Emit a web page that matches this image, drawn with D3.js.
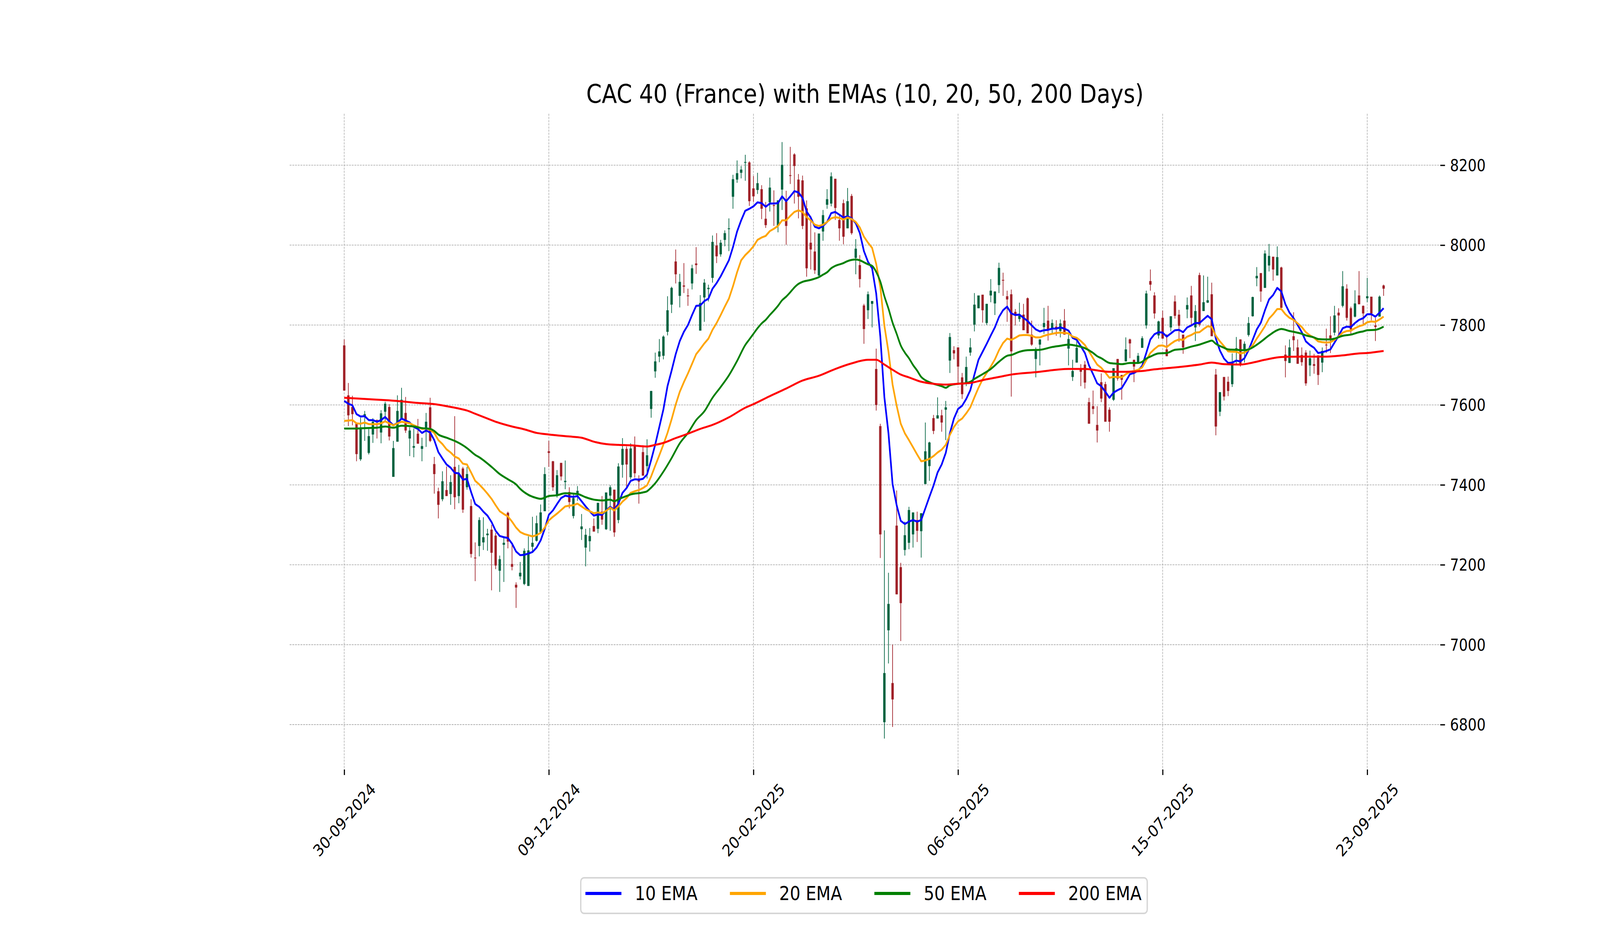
<!DOCTYPE html>
<html>
<head>
<meta charset="utf-8">
<script src="https://cdn.jsdelivr.net/npm/d3@7"></script>
<style>
html, body { margin: 0; padding: 0; width: 100%; height: 100%; overflow: hidden; background: #ffffff; }
#chart { width: 100vw; height: 100vh; }
svg { display: block; font-family: "DejaVu Sans", sans-serif; }
</style>
</head>
<body>
<div id="chart"></div>
<script>
"use strict";
var width = 4800;
var height = 2400;

var title = "CAC 40 (France) with EMAs (10, 20, 50, 200 Days)";

// daily candles, one row per trading day: [open, high, low, close]
var ohlc = [
    [7749,7764,7636,7636], [7624,7655,7547,7574], [7595,7623,7549,7577], [7553,7553,7459,7477], [7464,7568,7460,7541],
    [7571,7585,7510,7577], [7480,7540,7476,7522], [7526,7567,7505,7558], [7562,7564,7516,7558], [7531,7587,7504,7579],
    [7583,7608,7558,7603], [7595,7602,7511,7521], [7420,7510,7420,7492], [7508,7624,7508,7585], [7567,7643,7564,7613],
    [7580,7620,7530,7536], [7516,7544,7472,7536], [7493,7541,7469,7497], [7528,7565,7503,7503], [7490,7518,7459,7497],
    [7541,7580,7495,7558], [7594,7618,7507,7510], [7452,7470,7378,7427], [7384,7393,7316,7350], [7364,7434,7359,7409],
    [7387,7446,7372,7372], [7377,7424,7350,7407], [7445,7572,7339,7369], [7372,7450,7354,7427], [7441,7445,7330,7338],
    [7394,7445,7388,7427], [7347,7364,7218,7227], [7218,7256,7159,7216], [7247,7319,7221,7312], [7256,7319,7237,7269],
    [7274,7290,7235,7278], [7288,7300,7136,7230], [7273,7280,7189,7198], [7185,7223,7132,7214], [7250,7267,7157,7255],
    [7330,7333,7241,7258], [7202,7251,7186,7195], [7150,7156,7092,7143], [7171,7207,7163,7180], [7152,7241,7149,7235],
    [7147,7271,7147,7236], [7245,7320,7230,7255], [7260,7323,7258,7304], [7282,7351,7282,7331], [7334,7444,7334,7427],
    [7484,7510,7445,7480], [7459,7460,7385,7394], [7372,7437,7368,7424], [7455,7455,7411,7421], [7407,7461,7389,7410],
    [7382,7394,7341,7357], [7322,7380,7316,7367], [7378,7397,7360,7385], [7289,7327,7262,7296], [7243,7290,7196,7275],
    [7259,7292,7233,7272], [7297,7316,7283,7283], [7290,7355,7279,7355], [7333,7372,7300,7313], [7289,7381,7287,7381],
    [7373,7399,7285,7394], [7388,7388,7270,7281], [7312,7454,7304,7446], [7450,7517,7418,7490], [7490,7496,7394,7451],
    [7419,7504,7414,7491], [7499,7521,7418,7429], [7411,7424,7353,7408], [7482,7499,7423,7423], [7447,7514,7416,7474],
    [7590,7635,7568,7635], [7684,7731,7668,7709], [7721,7765,7707,7734], [7723,7774,7714,7771], [7783,7872,7774,7837],
    [7851,7896,7830,7893], [7959,7989,7904,7927], [7873,7928,7844,7908], [7899,7955,7880,7896], [7874,7891,7848,7872],
    [7904,7951,7889,7942], [7954,7995,7928,7950], [7786,7875,7786,7855], [7869,7915,7808,7906], [7890,7901,7859,7893],
    [7918,8024,7906,8008], [7999,8030,7955,7972], [7977,8013,7971,8006], [8013,8037,7997,8030], [8040,8067,7985,8042],
    [8121,8176,8091,8165], [8164,8212,8156,8180], [8181,8198,8167,8189], [8206,8226,8161,8208], [8207,8210,8098,8110],
    [8142,8173,8108,8122], [8138,8181,8128,8155], [8140,8150,8065,8091], [8066,8108,8043,8050], [8107,8169,8084,8144],
    [8100,8137,8048,8098], [8048,8112,8032,8112], [8139,8258,8088,8201], [8109,8136,8001,8048], [8175,8246,8153,8174],
    [8227,8230,8104,8198], [8164,8178,8067,8121], [8162,8174,8040,8048], [8092,8112,7921,7942], [8006,8073,7939,7989],
    [7984,8032,7928,7937], [7924,8029,7922,8029], [8034,8088,8011,8075], [8101,8140,8091,8115], [8104,8182,8097,8172],
    [8166,8166,8063,8093], [8063,8073,8011,8042], [8105,8114,8002,8021], [8042,8143,8042,8110], [8123,8128,8026,8030],
    [7968,8015,7927,7991], [7950,7975,7894,7915], [7849,7853,7753,7790], [7837,7884,7815,7877], [7853,7860,7794,7860],
    [7690,7741,7586,7600], [7547,7553,7217,7276], [6806,7286,6765,6929], [7036,7180,6953,7102], [6904,7000,6794,6863],
    [7298,7386,7126,7126], [7194,7205,7009,7104], [7237,7308,7223,7274], [7255,7345,7239,7337], [7276,7331,7243,7331],
    [7312,7333,7257,7285], [7284,7329,7218,7329], [7402,7556,7402,7484], [7447,7508,7410,7506], [7567,7575,7527,7535],
    [7566,7619,7566,7574], [7574,7588,7533,7556], [7588,7610,7512,7594], [7711,7780,7680,7770], [7737,7747,7714,7729],
    [7744,7744,7651,7696], [7669,7680,7615,7627], [7654,7721,7647,7695], [7731,7767,7723,7744], [7801,7880,7784,7851],
    [7842,7874,7842,7874], [7876,7876,7806,7837], [7805,7853,7800,7853], [7874,7915,7857,7886], [7854,7884,7825,7884],
    [7900,7956,7880,7943], [7913,7931,7873,7911], [7872,7886,7808,7864], [7877,7889,7621,7734], [7833,7840,7799,7827],
    [7815,7856,7808,7823], [7826,7853,7787,7787], [7867,7869,7779,7779], [7776,7811,7748,7751], [7715,7744,7669,7737],
    [7751,7764,7699,7764], [7795,7843,7778,7805], [7811,7848,7761,7789], [7789,7814,7779,7805], [7796,7812,7773,7791],
    [7785,7814,7769,7804], [7811,7840,7776,7776], [7741,7776,7699,7765], [7670,7713,7660,7685], [7706,7760,7706,7743],
    [7690,7702,7647,7683], [7701,7710,7641,7656], [7607,7618,7553,7553], [7597,7636,7577,7590], [7550,7597,7506,7536],
    [7657,7679,7607,7616], [7652,7658,7558,7558], [7588,7594,7533,7558], [7613,7692,7610,7692], [7715,7715,7661,7666],
    [7675,7675,7613,7663], [7709,7769,7709,7739], [7764,7766,7717,7754], [7713,7713,7657,7696], [7703,7730,7703,7723],
    [7743,7772,7743,7767], [7799,7886,7791,7879], [7910,7939,7886,7901], [7874,7882,7816,7829], [7774,7811,7766,7809],
    [7818,7836,7766,7766], [7739,7777,7722,7722], [7794,7822,7784,7822], [7859,7874,7816,7823], [7826,7838,7758,7798],
    [7776,7776,7728,7744], [7839,7869,7817,7850], [7874,7898,7801,7818], [7794,7850,7760,7835], [7925,7931,7796,7801],
    [7835,7924,7835,7857], [7856,7921,7855,7862], [7877,7906,7772,7772], [7676,7690,7524,7546], [7583,7632,7572,7632],
    [7670,7670,7611,7621], [7658,7671,7622,7635], [7652,7729,7645,7708], [7739,7770,7701,7742], [7764,7764,7696,7700],
    [7738,7759,7706,7753], [7775,7820,7771,7805], [7822,7871,7821,7870], [7917,7945,7897,7923], [7930,7930,7858,7884],
    [7893,7987,7893,7979], [7949,8003,7934,7973], [7971,7971,7911,7939], [7924,7997,7924,7970], [7944,7946,7843,7843],
    [7726,7749,7669,7710], [7705,7764,7705,7744], [7772,7832,7735,7762], [7744,7764,7703,7703], [7725,7744,7698,7707],
    [7731,7737,7648,7654], [7699,7736,7672,7717], [7702,7728,7678,7698], [7724,7724,7650,7675], [7706,7744,7682,7735],
    [7751,7791,7730,7749], [7774,7822,7730,7765], [7781,7848,7774,7824], [7831,7842,7769,7824], [7848,7935,7844,7897],
    [7891,7902,7811,7818], [7842,7846,7778,7789], [7821,7887,7819,7854], [7874,7935,7852,7852], [7848,7849,7802,7829],
    [7867,7918,7857,7872], [7871,7871,7812,7829], [7799,7818,7760,7795], [7821,7874,7821,7871], [7899,7901,7873,7891]
];

// 10 and 20 day EMA, one value per trading day
var ema10 = [
    7610,7603,7599,7577,7571,7572,7562,7562,7558,7562, 7570,7559,7549,7555,7566,7561,7556,7545,7540,7530,
    7536,7531,7512,7482,7466,7451,7443,7430,7429,7413, 7415,7382,7352,7345,7333,7323,7307,7285,7272,7269,
    7267,7253,7233,7224,7225,7228,7232,7243,7261,7290, 7325,7336,7352,7367,7373,7371,7370,7372,7359,7346,
    7334,7323,7326,7325,7336,7345,7338,7353,7380,7392, 7410,7414,7413,7415,7426,7462,7501,7545,7589,7647,
    7686,7727,7760,7783,7800,7825,7848,7849,7860,7866, 7891,7905,7922,7942,7962,7995,8034,8062,8086,8091,
    8097,8107,8105,8096,8104,8104,8105,8122,8110,8122, 8135,8132,8118,8084,8069,8046,8042,8048,8058,8080,
    8083,8076,8069,8072,8067,8055,8030,7985,7958,7942, 7879,7772,7619,7529,7402,7349,7310,7302,7308,7312,
    7308,7312,7341,7370,7398,7431,7451,7480,7529,7566, 7590,7598,7615,7637,7676,7713,7733,7753,7774,7794,
    7820,7837,7846,7829,7825,7826,7818,7810,7799,7789, 7784,7787,7788,7791,7791,7794,7791,7786,7768,7763,
    7747,7730,7699,7677,7654,7647,7633,7618,7631,7637, 7642,7659,7677,7680,7686,7698,7730,7764,7777,7782,
    7781,7771,7779,7787,7788,7782,7794,7799,7805,7805, 7814,7823,7814,7766,7736,7716,7705,7706,7711,7709,
    7717,7737,7763,7789,7806,7837,7864,7875,7893,7884, 7852,7831,7817,7800,7782,7759,7750,7743,7730,7732,
    7735,7739,7756,7773,7792,7796,7795,7805,7813,7817, 7827,7827,7821,7831,7842
];
var ema20 = [
    7560,7561,7562,7554,7553,7556,7552,7552,7552,7554, 7559,7554,7549,7554,7558,7556,7554,7549,7545,7540,
    7541,7538,7530,7512,7502,7489,7481,7471,7466,7453, 7451,7431,7410,7401,7390,7378,7365,7349,7334,7327,
    7321,7308,7293,7282,7277,7274,7271,7274,7280,7293, 7311,7320,7328,7337,7346,7348,7349,7353,7346,7339,
    7334,7329,7331,7329,7335,7343,7336,7346,7358,7367, 7380,7384,7387,7392,7399,7421,7448,7474,7501,7530,
    7564,7601,7633,7657,7679,7703,7727,7740,7754,7766, 7788,7805,7825,7846,7866,7897,7932,7962,7975,7985,
    7997,8013,8019,8023,8035,8041,8048,8062,8062,8073, 8083,8087,8083,8070,8062,8051,8048,8051,8058,8067,
    8070,8068,8064,8069,8065,8058,8044,8021,8006,7993, 7953,7896,7798,7733,7651,7598,7553,7529,7512,7494,
    7476,7459,7461,7465,7472,7481,7488,7500,7525,7545, 7559,7566,7579,7594,7619,7643,7664,7680,7696,7714,
    7737,7755,7766,7763,7768,7774,7775,7775,7773,7769, 7769,7773,7776,7778,7780,7781,7780,7779,7771,7768,
    7760,7750,7734,7717,7701,7693,7681,7668,7670,7670, 7669,7677,7683,7685,7688,7694,7712,7730,7740,7748,
    7749,7745,7753,7760,7764,7763,7771,7775,7781,7782, 7790,7797,7795,7773,7759,7747,7734,7733,7733,7729,
    7731,7738,7749,7766,7781,7797,7816,7827,7840,7840, 7827,7818,7813,7804,7795,7782,7774,7768,7759,7757,
    7756,7757,7763,7771,7781,7785,7786,7792,7797,7800, 7807,7809,7808,7814,7821
];
// 50 and 200 day EMA read at selected days: [day, value]
var ema50 = [
    [0,7541],[3,7541],[5,7542],[8,7543],[10,7546],[12,7543],[14,7548],[17,7546],[19,7542],[21,7540],
    [22,7535],[23,7526],[25,7518],[27,7510],[28,7505],[29,7499],[30,7492],[32,7475],[33,7469],[36,7445],
    [38,7427],[40,7414],[42,7401],[43,7390],[45,7375],[47,7367],[48,7365],[50,7372],[52,7374],[54,7379],
    [57,7377],[59,7369],[61,7363],[63,7361],[65,7363],[66,7359],[67,7364],[69,7372],[70,7376],[73,7381],
    [74,7384],[75,7393],[76,7404],[78,7433],[80,7467],[82,7504],[84,7530],[86,7562],[88,7584],[90,7618],
    [92,7645],[94,7674],[96,7710],[98,7750],[99,7764],[100,7778],[101,7792],[102,7804],[103,7813],[104,7825],
    [105,7836],[106,7848],[107,7862],[108,7871],[109,7882],[110,7894],[111,7903],[112,7908],[114,7913],[116,7920],
    [117,7926],[118,7932],[119,7942],[120,7948],[122,7955],[123,7960],[124,7963],[125,7964],[126,7962],[127,7957],
    [128,7952],[129,7948],[130,7933],[131,7909],[132,7872],[133,7841],[134,7806],[135,7778],[136,7749],[137,7731],
    [138,7717],[139,7700],[140,7686],[141,7670],[142,7662],[143,7657],[144,7653],[146,7647],[147,7643],[148,7649],
    [150,7653],[152,7655],[153,7658],[154,7665],[156,7677],[158,7690],[160,7708],[162,7723],[163,7725],[165,7733],
    [167,7737],[170,7738],[173,7745],[175,7748],[177,7751],[179,7748],[181,7742],[183,7730],[184,7722],[185,7717],
    [187,7705],[189,7703],[190,7702],[192,7705],[194,7705],[195,7708],[196,7716],[197,7721],[199,7729],[201,7730],
    [203,7738],[205,7740],[207,7746],[209,7751],[211,7758],[212,7761],[213,7753],[215,7743],[216,7739],[218,7738],
    [220,7737],[221,7739],[222,7744],[224,7758],[226,7774],[228,7787],[229,7790],[231,7785],[232,7783],[234,7778],
    [235,7774],[237,7769],[238,7765],[240,7764],[241,7764],[242,7766],[244,7773],[246,7776],[248,7782],[249,7784],
    [250,7787],[252,7788],[254,7796]
];
var ema200 = [
    [0,7618],[5,7615],[10,7612],[14,7609],[18,7605],[22,7602],[25,7597],[28,7591],[30,7586],[32,7578],
    [35,7566],[37,7558],[41,7546],[44,7539],[47,7530],[50,7526],[55,7521],[58,7518],[61,7508],[64,7502],
    [67,7500],[70,7499],[74,7496],[76,7500],[78,7505],[81,7517],[84,7528],[87,7540],[90,7550],[94,7569],
    [98,7593],[100,7602],[104,7622],[108,7641],[112,7661],[116,7673],[120,7690],[124,7704],[128,7713],[130,7713],
    [132,7701],[134,7688],[136,7676],[138,7669],[141,7658],[144,7653],[147,7651],[150,7653],[153,7655],[156,7662],
    [159,7668],[161,7672],[163,7676],[169,7682],[177,7690],[181,7690],[187,7683],[191,7683],[195,7685],[198,7689],
    [201,7692],[205,7696],[209,7701],[212,7706],[215,7702],[219,7701],[222,7706],[225,7713],[229,7720],[235,7721],
    [240,7721],[244,7724],[248,7729],[250,7730],[254,7735]
];

var seriesNames = ["10 EMA", "20 EMA", "50 EMA", "200 EMA"];
var seriesColors = ["blue", "orange", "green", "red"];

var tickDays = [0, 50, 100, 150, 200, 250];
var tickLabels = ["30-09-2024", "09-12-2024", "20-02-2025", "06-05-2025", "15-07-2025", "23-09-2025"];
var priceTicks = [6800, 7000, 7200, 7400, 7600, 7800, 8000, 8200];

var upColor = "#006340";
var downColor = "#a02128";

// plot box
var plot = { left: 869, right: 4321, top: 291, bottom: 1969 };

var x = d3.scaleLinear()
    .domain([-13.335, 267.86])
    .range([plot.left, plot.right]);
var y = d3.scaleLinear()
    .domain([6687.5, 8328.8])
    .range([plot.bottom, plot.top]);

// drawn in 4800x2400 units, stretched to fill the window
var svg = d3.select("#chart")
    .append("svg")
    .attr("width", "100%")
    .attr("height", "100%")
    .attr("viewBox", "0 0 " + width + " " + height)
    .attr("preserveAspectRatio", "none");

svg.append("rect").attr("width", width).attr("height", height).attr("fill", "#ffffff");

// grid
var grid = svg.append("g")
    .attr("stroke", "#b0b0b0")
    .attr("stroke-width", 1.8)
    .attr("stroke-dasharray", "5.5,2.6");
grid.selectAll("line.h")
    .data(priceTicks)
    .enter()
    .append("line")
    .attr("class", "h")
    .attr("x1", plot.left)
    .attr("x2", plot.right)
    .attr("y1", function (d) { return y(d); })
    .attr("y2", function (d) { return y(d); });
grid.selectAll("line.v")
    .data(tickDays)
    .enter()
    .append("line")
    .attr("class", "v")
    .attr("y1", plot.top)
    .attr("y2", plot.bottom)
    .attr("x1", function (d) { return x(d); })
    .attr("x2", function (d) { return x(d); });

// candles
var bodyWidth = (x(1) - x(0)) * 0.58;
var candleColor = function (d) { return d[3] >= d[0] ? upColor : downColor; };
var candles = svg.append("g")
    .selectAll("g")
    .data(ohlc)
    .enter()
    .append("g");
candles.append("line")
    .attr("x1", function (d, i) { return x(i); })
    .attr("x2", function (d, i) { return x(i); })
    .attr("y1", function (d) { return y(d[1]); })
    .attr("y2", function (d) { return y(d[2]); })
    .attr("stroke", candleColor)
    .attr("stroke-width", 2);
candles.append("rect")
    .attr("x", function (d, i) { return x(i) - bodyWidth / 2; })
    .attr("width", bodyWidth)
    .attr("y", function (d) { return y(Math.max(d[0], d[3])); })
    .attr("height", function (d) { return Math.max(2, Math.abs(y(d[0]) - y(d[3]))); })
    .attr("fill", candleColor);

// EMA lines
var daily = function (arr) { return arr.map(function (v, i) { return [i, v]; }); };
var emaSeries = [daily(ema10), daily(ema20), ema50, ema200];
var lineDaily = d3.line()
    .x(function (d) { return x(d[0]); })
    .y(function (d) { return y(d[1]); });
var lineSparse = d3.line()
    .curve(d3.curveMonotoneX)
    .x(function (d) { return x(d[0]); })
    .y(function (d) { return y(d[1]); });
svg.append("g")
    .selectAll("path")
    .data(emaSeries)
    .enter()
    .append("path")
    .attr("d", function (d, i) { return i < 2 ? lineDaily(d) : lineSparse(d); })
    .attr("fill", "none")
    .attr("stroke", function (d, i) { return seriesColors[i]; })
    .attr("stroke-width", 5)
    .attr("stroke-linejoin", "round");

// axes
var yAxis = svg.append("g")
    .attr("transform", "translate(" + plot.right + ",0)")
    .call(d3.axisRight(y).tickValues(priceTicks).tickSize(14).tickPadding(15).tickFormat(d3.format("d")));
var xAxis = svg.append("g")
    .attr("transform", "translate(0," + plot.bottom + ")")
    .call(d3.axisBottom(x).tickValues(tickDays).tickSize(14)
        .tickFormat(function (d, i) { return tickLabels[i]; }));
[xAxis, yAxis].forEach(function (ax) {
    ax.select(".domain").remove();
    ax.selectAll(".tick line").attr("stroke", "#000").attr("stroke-width", 3.3);
    ax.selectAll(".tick text")
        .attr("fill", "#000")
        .style("font-size", "42px")
        .style("font-family", "'DejaVu Sans', sans-serif");
});
xAxis.selectAll(".tick text")
    .attr("y", 0)
    .attr("dy", 0)
    .attr("text-anchor", "middle")
    .attr("dominant-baseline", "central")
    .attr("transform", "translate(0,129) rotate(-45)");
yAxis.selectAll(".tick text")
    .attr("dy", 0)
    .attr("dominant-baseline", "central");

// title
svg.append("text")
    .attr("x", (plot.left + plot.right) / 2)
    .attr("y", 240)
    .attr("text-anchor", "middle")
    .attr("dominant-baseline", "central")
    .style("font-size", "66.7px")
    .text(title);

// legend
var legend = svg.append("g");
var legendBox = legend.append("rect")
    .attr("rx", 10)
    .attr("fill", "#ffffff")
    .attr("stroke", "#d6d6d6")
    .attr("stroke-width", 4);
var handleLen = 108, textPad = 40, colGap = 97, padL = 14, padR = 17;
var legendY = 2286;
var cursor = 0;
var items = legend.selectAll("g.item")
    .data(seriesNames)
    .enter()
    .append("g")
    .attr("class", "item");
items.append("line")
    .attr("x1", 0)
    .attr("x2", handleLen)
    .attr("y1", legendY)
    .attr("y2", legendY)
    .attr("stroke", function (d, i) { return seriesColors[i]; })
    .attr("stroke-width", 8);
items.append("text")
    .attr("x", handleLen + textPad)
    .attr("y", legendY)
    .attr("dominant-baseline", "central")
    .style("font-size", "50px")
    .text(function (d) { return d; });
items.each(function () {
    var g = d3.select(this);
    var tw = g.select("text").node().getComputedTextLength();
    g.attr("transform", "translate(" + (padL + cursor) + ",0)");
    cursor += handleLen + textPad + tw + colGap;
});
var legendW = padL + cursor - colGap + padR;
var legendX = 2592 - legendW / 2;
legend.attr("transform", "translate(" + legendX + ",0)");
legendBox
    .attr("x", 0)
    .attr("y", 2246)
    .attr("width", legendW)
    .attr("height", 91);
</script>
</body>
</html>
